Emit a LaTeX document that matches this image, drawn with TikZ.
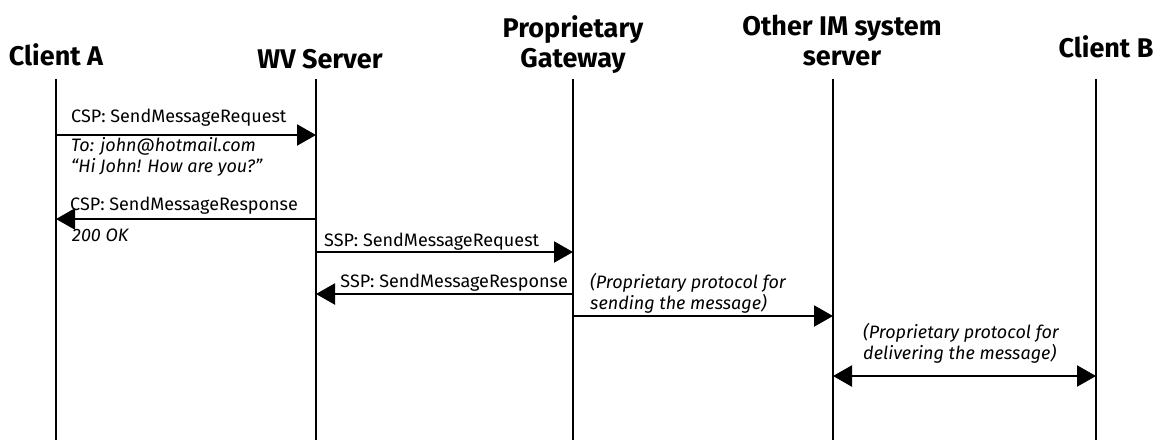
\documentclass[tikz,border=0pt]{standalone}
\usepackage{fontspec}
\setmainfont{Fira Sans}
\usetikzlibrary{arrows.meta}
\begin{document}
\begin{tikzpicture}[x=1pt,y=-1pt,
  hdr/.style={font=\bfseries\fontsize{27}{30}\selectfont,align=center,inner sep=0pt},
  lbl/.style={font=\fontsize{18}{21}\selectfont,inner sep=0pt,anchor=base west},
  ilbl/.style={font=\itshape\fontsize{18}{21}\selectfont,inner sep=0pt,anchor=base west,align=left},
  life/.style={line width=1.6pt},
  msg/.style={line width=2.2pt,-{Triangle[length=19pt,width=21pt]}},
  bmsg/.style={line width=2.2pt,{Triangle[length=19pt,width=21pt]}-{Triangle[length=19pt,width=21pt]}}]
\useasboundingbox (0,0) rectangle (1158,440);
% headers
\node[hdr,anchor=base] (hA) at (56,65) {Client A};
\node[hdr,anchor=base] (hW) at (320,68) {WV Server};
\node[hdr,anchor=base] (hG) at (573,67) {Proprietary\\Gateway};
\node[hdr,anchor=base] (hO) at (842,65) {Other IM system\\server};
\node[hdr,anchor=base] (hB) at (1106,57) {Client B};
% lifelines
\foreach \n/\x in {A/56,W/316,G/573,O/833,B/1096}{
  \coordinate (t\n) at (\x,79);
  \coordinate (b\n) at (\x,440);
  \draw[life] (t\n) -- (b\n);
}
% message anchor points
\coordinate (m1a) at (56,135);  \coordinate (m1b) at (316,135);
\coordinate (m2a) at (316,219); \coordinate (m2b) at (56,219);
\coordinate (m3a) at (316,252); \coordinate (m3b) at (573,252);
\coordinate (m4a) at (573,294); \coordinate (m4b) at (316,294);
\coordinate (m5a) at (573,316); \coordinate (m5b) at (833,316);
\coordinate (m6a) at (833,376); \coordinate (m6b) at (1096,376);
\draw[msg] (m1a) -- (m1b);
\draw[msg] (m2a) -- (m2b);
\draw[msg] (m3a) -- (m3b);
\draw[msg] (m4a) -- (m4b);
\draw[msg] (m5a) -- (m5b);
\draw[bmsg] (m6a) -- (m6b);
% labels
\node[lbl] (l1) at (71,122) {CSP: SendMessageRequest};
\node[ilbl] (l1b) at (71,172) {To: john@hotmail.com\\“Hi John! How are you?”};
\node[lbl] (l2) at (70,210) {CSP: SendMessageResponse};
\node[ilbl] (l2b) at (72,241) {200 OK};
\node[lbl] (l3) at (324,246) {SSP: SendMessageRequest};
\node[lbl,anchor=base east] (l4) at (568,287) {SSP: SendMessageResponse};
\node[ilbl] (l5) at (590,309) {(Proprietary protocol for\\sending the message)};
\node[ilbl] (l6) at (863,359) {(Proprietary protocol for\\delivering the message)};
\end{tikzpicture}
\end{document}
